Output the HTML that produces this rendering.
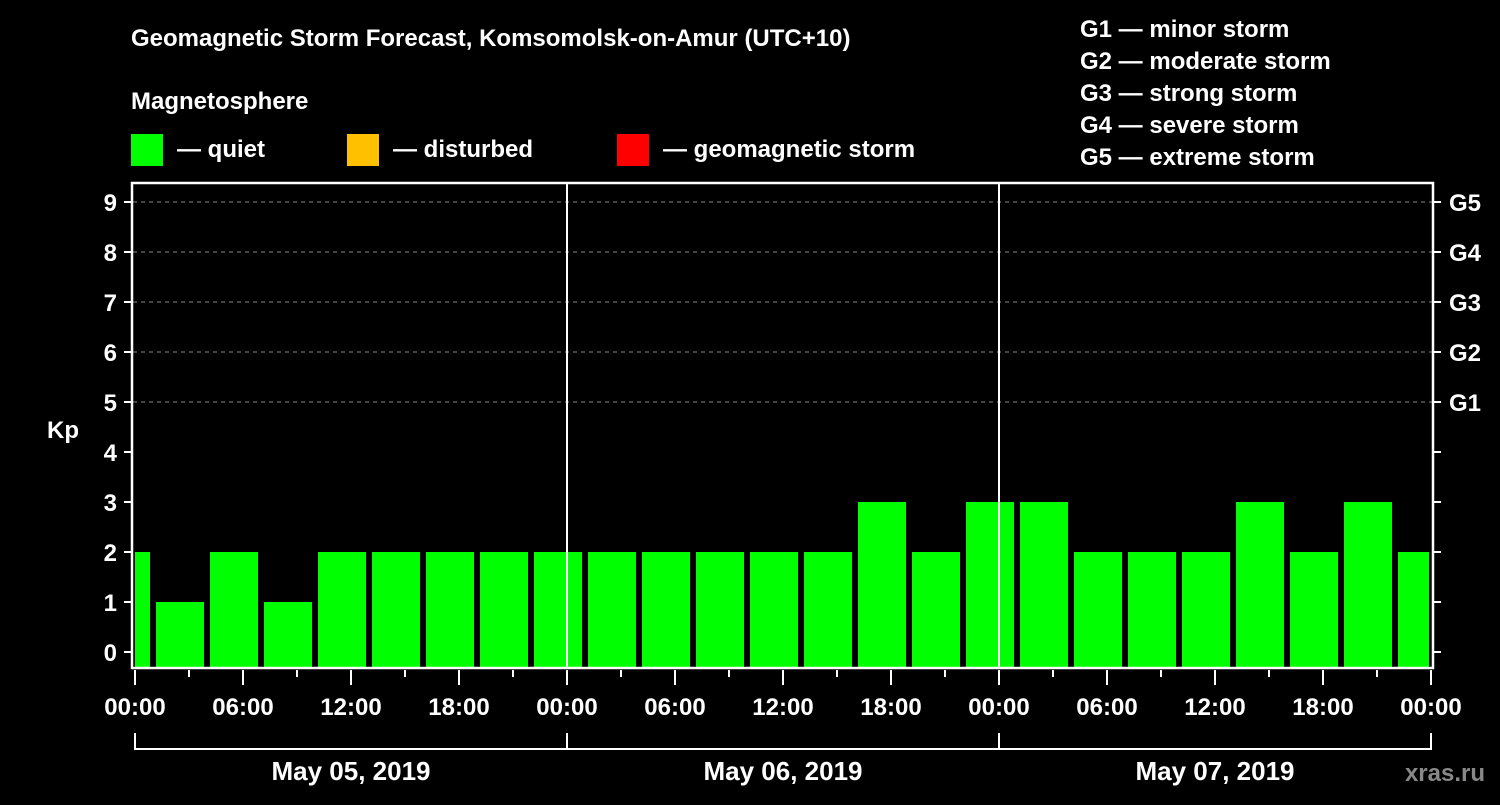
<!DOCTYPE html>
<html><head><meta charset="utf-8"><style>
html,body{margin:0;padding:0;background:#000;}
svg text{font-family:"Liberation Sans",Arial,sans-serif;font-weight:bold;fill:#fff;}
</style></head><body>
<svg id="chart" width="1500" height="800" xmlns="http://www.w3.org/2000/svg">
<rect width="1500" height="800" fill="#000"/>
<text x="131" y="46" font-size="24">Geomagnetic Storm Forecast, Komsomolsk-on-Amur (UTC+10)</text>
<text x="131" y="109" font-size="24">Magnetosphere</text>
<g><rect x="131" y="134" width="32" height="32" fill="#00ff00"/><text x="177" y="157" font-size="24">— quiet</text></g>
<g><rect x="347" y="134" width="32" height="32" fill="#ffc000"/><text x="393" y="157" font-size="24">— disturbed</text></g>
<g><rect x="617" y="134" width="32" height="32" fill="#ff0000"/><text x="663" y="157" font-size="24">— geomagnetic storm</text></g>
<g font-size="24">
<text x="1080" y="37">G1 — minor storm</text>
<text x="1080" y="69">G2 — moderate storm</text>
<text x="1080" y="101">G3 — strong storm</text>
<text x="1080" y="133">G4 — severe storm</text>
<text x="1080" y="165">G5 — extreme storm</text>
</g>
<defs><clipPath id="plotclip"><rect x="135" y="183" width="1294" height="485"/></clipPath></defs>
<g id="grid"></g>
<g id="bars" clip-path="url(#plotclip)"></g>
<g id="axes"></g>
<text x="63" y="438" font-size="24" text-anchor="middle">Kp</text>
<text x="1485" y="781" font-size="24" text-anchor="end" fill="#888" style="fill:#888">xras.ru</text>
</svg>
<script>
const kpValues = [2,1,2,1,2,2,2,2,2,2,2,2,2,2,3,2,3,3,2,2,2,3,2,3,2];
const barHours = [-0.5,2.5,5.5,8.5,11.5,14.5,17.5,20.5,23.5,26.5,29.5,32.5,35.5,38.5,41.5,44.5,47.5,50.5,53.5,56.5,59.5,62.5,65.5,68.5,71.5];
const timeLabels = ["00:00","06:00","12:00","18:00","00:00","06:00","12:00","18:00","00:00","06:00","12:00","18:00","00:00"];
const dayLabels = ["May 05, 2019","May 06, 2019","May 07, 2019"];
const yTicks = [0,1,2,3,4,5,6,7,8,9];
const gLabels = ["G1","G2","G3","G4","G5"];
const gLevels = [5,6,7,8,9];

const NS="http://www.w3.org/2000/svg";
const X0=135, PXH=18, Y0=652, PXK=50;
const xs=h=>X0+h*PXH, ys=k=>Y0-k*PXK;
function mk(tag,attrs,parent){const e=document.createElementNS(NS,tag);for(const k in attrs)e.setAttribute(k,attrs[k]);parent.appendChild(e);return e;}
const grid=document.getElementById('grid'), bars=document.getElementById('bars'), axes=document.getElementById('axes');

gLevels.forEach((g,i)=>{
  const l=mk('line',{x1:133,x2:1432,y1:ys(g),y2:ys(g),stroke:'#888','stroke-dasharray':'4,4','stroke-width':1},grid);
  
  
  const t=mk('text',{x:1449,y:ys(g)+9,'font-size':24},axes);t.textContent=gLabels[i];
  
  
});
kpValues.forEach((v,i)=>{
  const c=xs(barHours[i]);
  const color=v>=5?'#ff0000':(v>=4?'#ffc000':'#00ff00');
  const r=mk('rect',{x:c-24,y:ys(v),width:48,height:(ys(-0.32))-ys(v),fill:color},bars);
  
  
});
[24,48].forEach(h=>{
  const l=mk('line',{x1:xs(h),x2:xs(h),y1:183,y2:668,stroke:'#fff','stroke-width':2},axes);
  
  
});
const frame=mk('rect',{x:132,y:183,width:1301,height:485,fill:'none',stroke:'#fff','stroke-width':2.5},axes);


yTicks.forEach(k=>{
  mk('line',{x1:124,x2:132,y1:ys(k),y2:ys(k),stroke:'#fff','stroke-width':2},axes);
  mk('line',{x1:1433,x2:1441,y1:ys(k),y2:ys(k),stroke:'#fff','stroke-width':2},axes);
  const t=mk('text',{x:117,y:ys(k)+9,'font-size':24,'text-anchor':'end'},axes);t.textContent=k;
  
  
});
for(let h=0;h<=72;h+=3){
  const major=h%6===0;
  mk('line',{x1:xs(h),x2:xs(h),y1:670,y2:major?685:677,stroke:'#fff','stroke-width':2},axes);
}
timeLabels.forEach((s,i)=>{
  const t=mk('text',{x:xs(i*6),y:715,'font-size':24,'text-anchor':'middle'},axes);t.textContent=s;
  
  
});
mk('polyline',{points:`${xs(0)},733 ${xs(0)},749 ${xs(72)},749 ${xs(72)},733`,fill:'none',stroke:'#fff','stroke-width':2},axes);
[24,48].forEach(h=>mk('line',{x1:xs(h),x2:xs(h),y1:733,y2:749,stroke:'#fff','stroke-width':2},axes));
dayLabels.forEach((s,i)=>{
  const t=mk('text',{x:xs(i*24+12),y:780,'font-size':26,'text-anchor':'middle'},axes);t.textContent=s;
  
  
});
</script>
</body></html>
